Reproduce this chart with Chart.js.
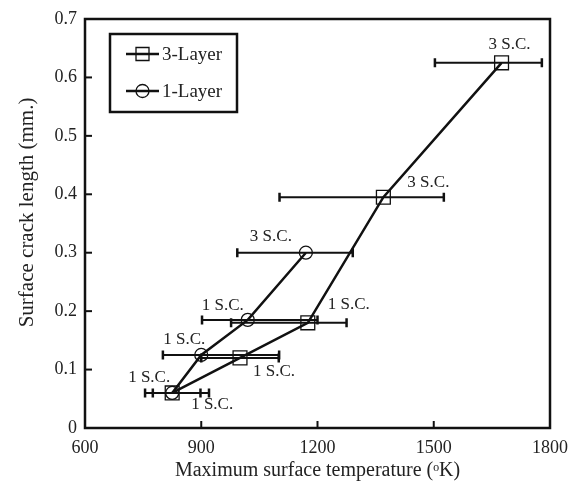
<!DOCTYPE html>
<html>
<head>
<meta charset="utf-8">
<script src="https://cdn.jsdelivr.net/npm/chart.js@4.4.0/dist/chart.umd.min.js"></script>
<style>
  html, body { margin: 0; padding: 0; background: #fff; }
  #wrap { width: 570px; height: 486px; position: relative; }
</style>
</head>
<body>
<div id="wrap"><canvas id="crack"></canvas></div>
<script>
// 3-layer coating: temperature, crack length, temperature scatter, cycles
const temp3 = [825, 1000, 1175, 1370, 1675];
const crack3 = [0.06, 0.12, 0.18, 0.395, 0.625];
const tempLow3 = [775, 900, 977, 1102, 1503];
const tempHigh3 = [898, 1100, 1275, 1526, 1779];
const cycles3 = ['1 S.C.', '1 S.C.', '1 S.C.', '3 S.C.', '3 S.C.'];

// 1-layer coating
const temp1 = [825, 900, 1020, 1170];
const crack1 = [0.06, 0.125, 0.185, 0.3];
const tempLow1 = [755, 801, 902, 993];
const tempHigh1 = [920, 1101, 1200, 1291];
const cycles1 = ['1 S.C.', '1 S.C.', '1 S.C.', '3 S.C.'];

const xTicks = [600, 900, 1200, 1500, 1800];
const yTicks = [0, 0.1, 0.2, 0.3, 0.4, 0.5, 0.6, 0.7];
const yTitle = 'Surface crack length (mm.)';

// where each cycle note sits relative to its point (px)
const noteOff3 = [[40, 12], [34, 14], [41, -18], [45, -15], [8, -18]];
const noteOff1 = [[-23, -15], [-17, -15], [-25, -14], [-35, -16]];

const serif = 'Liberation Serif, Times New Roman, serif';
const ink = '#111';

const toPts = (xs, ys) => xs.map((v, i) => ({x: v, y: ys[i]}));

// horizontal error bars + the S.C. notes
const errorBars = {
    id: 'errorBars',
    afterDatasetsDraw(chart) {
        const {ctx, scales: {x, y}} = chart;
        ctx.save();
        ctx.strokeStyle = ink;
        chart.data.datasets.forEach(ds => {
            ds.data.forEach((p, i) => {
                const py = y.getPixelForValue(p.y);
                const x0 = x.getPixelForValue(ds.xLow[i]);
                const x1 = x.getPixelForValue(ds.xHigh[i]);
                ctx.lineWidth = 2;
                ctx.beginPath();
                ctx.moveTo(x0, py);
                ctx.lineTo(x1, py);
                ctx.stroke();
                ctx.lineWidth = 2.5;
                ctx.beginPath();
                ctx.moveTo(x0, py - 4.5);
                ctx.lineTo(x0, py + 4.5);
                ctx.moveTo(x1, py - 4.5);
                ctx.lineTo(x1, py + 4.5);
                ctx.stroke();
            });
        });
        ctx.fillStyle = '#222';
        ctx.font = '17px ' + serif;
        ctx.textAlign = 'center';
        ctx.textBaseline = 'middle';
        chart.data.datasets.forEach(ds => {
            ds.data.forEach((p, i) => {
                const px = x.getPixelForValue(p.x);
                const py = y.getPixelForValue(p.y);
                ctx.fillText(ds.notes[i], px + ds.noteOff[i][0], py + ds.noteOff[i][1]);
            });
        });
        ctx.restore();
    }
};

// closed frame, inward ticks, y title and the boxed legend
const frame = {
    id: 'frame',
    afterDraw(chart) {
        const {ctx, chartArea: a, scales: {x, y}} = chart;
        ctx.save();
        ctx.strokeStyle = ink;
        ctx.lineWidth = 2;
        xTicks.slice(1, -1).forEach(v => {
            const px = x.getPixelForValue(v);
            ctx.beginPath();
            ctx.moveTo(px, a.bottom);
            ctx.lineTo(px, a.bottom - 7);
            ctx.stroke();
        });
        yTicks.slice(1, -1).forEach(v => {
            const py = y.getPixelForValue(v);
            ctx.beginPath();
            ctx.moveTo(a.left, py);
            ctx.lineTo(a.left + 7, py);
            ctx.stroke();
        });
        ctx.lineWidth = 2.5;
        ctx.strokeRect(a.left, a.top, a.right - a.left, a.bottom - a.top);

        // rotated y title, sitting a bit above the middle
        ctx.save();
        ctx.translate(27, a.top + (a.bottom - a.top) * 0.473);
        ctx.rotate(-Math.PI / 2);
        ctx.fillStyle = '#222';
        ctx.font = '21px ' + serif;
        ctx.textAlign = 'center';
        ctx.textBaseline = 'middle';
        ctx.fillText(yTitle, 0, 0);
        ctx.restore();

        // legend
        const bx = a.left + 25, by = a.top + 15;
        ctx.lineWidth = 2.5;
        ctx.strokeRect(bx, by, 127, 78);
        chart.data.datasets.forEach((ds, i) => {
            const ly = by + 20 + i * 37;
            ctx.lineWidth = 2.5;
            ctx.beginPath();
            ctx.moveTo(bx + 16, ly);
            ctx.lineTo(bx + 49, ly);
            ctx.stroke();
            ctx.lineWidth = 1.3;
            ctx.beginPath();
            if (ds.pointStyle === 'rect') {
                ctx.rect(bx + 26, ly - 6.5, 13, 13);
            } else {
                ctx.arc(bx + 32.5, ly, 6.5, 0, Math.PI * 2);
            }
            ctx.stroke();
            ctx.fillStyle = '#222';
            ctx.font = '19px ' + serif;
            ctx.textAlign = 'left';
            ctx.textBaseline = 'middle';
            ctx.fillText(ds.label, bx + 52, ly + 1);
        });
        ctx.restore();
    }
};

const tickFont = {family: serif, size: 18};
const titleFont = {family: serif, size: 20};

new Chart(document.getElementById('crack'), {
    type: 'scatter',
    data: {
        datasets: [
            {
                label: '3-Layer',
                data: toPts(temp3, crack3),
                xLow: tempLow3, xHigh: tempHigh3,
                notes: cycles3, noteOff: noteOff3,
                showLine: true,
                borderColor: ink,
                borderWidth: 2.5,
                pointStyle: 'rect',
                pointRadius: 9.8,
                pointBorderWidth: 1.3,
                pointBackgroundColor: 'rgba(0,0,0,0)',
                pointBorderColor: ink
            },
            {
                label: '1-Layer',
                data: toPts(temp1, crack1),
                xLow: tempLow1, xHigh: tempHigh1,
                notes: cycles1, noteOff: noteOff1,
                showLine: true,
                borderColor: ink,
                borderWidth: 2.5,
                pointStyle: 'circle',
                pointRadius: 6.5,
                pointBorderWidth: 1.3,
                pointBackgroundColor: 'rgba(0,0,0,0)',
                pointBorderColor: ink
            }
        ]
    },
    options: {
        responsive: true,
        maintainAspectRatio: false,
        animation: false,
        layout: {padding: {top: 19, right: 20, left: 0, bottom: 0}},
        plugins: {legend: {display: false}, tooltip: {enabled: false}},
        scales: {
            x: {
                type: 'linear', min: 600, max: 1800,
                afterBuildTicks: s => { s.ticks = xTicks.map(v => ({value: v})); },
                afterFit: s => { s.height = 58; s.paddingLeft = 0; s.paddingRight = 0; },
                grid: {display: false, drawTicks: false},
                border: {display: false},
                ticks: {padding: 9, font: tickFont, color: '#222', maxRotation: 0, callback: v => String(v)},
                title: {display: true, text: 'Maximum surface temperature (\u1D52K)', font: titleFont, color: '#222', padding: {top: 0, bottom: 3}}
            },
            y: {
                type: 'linear', min: 0, max: 0.7,
                afterBuildTicks: s => { s.ticks = yTicks.map(v => ({value: v})); },
                afterFit: s => { s.width = 85; s.paddingTop = 0; s.paddingBottom = 0; },
                grid: {display: false, drawTicks: false},
                border: {display: false},
                ticks: {padding: 8, font: tickFont, color: '#222', callback: v => String(Number(v.toFixed(1)))}
            }
        }
    },
    plugins: [errorBars, frame]
});
</script>
</body>
</html>
